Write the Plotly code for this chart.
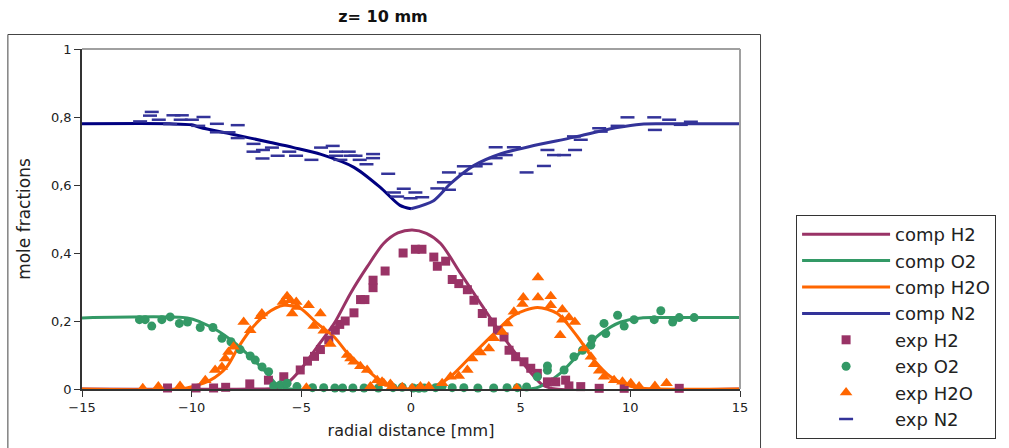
import numpy as np
import plotly.graph_objects as go

# ---- computed radial profiles (z = 10 mm) ----
h2_comp_x = [-15, -7.0, -6.2, -5.6, -5.05, -4.28, -3.5, -2.76, -2.0, -1.25, -0.6, 0.05, 0.7, 1.35, 2.26, 3.17, 4.09, 5.0, 5.5, 6.0, 6.6, 15]
h2_comp_y = [0, 0, 0.002, 0.02, 0.056, 0.124, 0.193, 0.281, 0.359, 0.428, 0.459, 0.468, 0.458, 0.428, 0.34, 0.252, 0.164, 0.085, 0.045, 0.012, 0, 0]

o2_comp_x = [-15, -10.2, -9.6, -8.85, -8.1, -7.33, -6.57, -6.1, -5.6, 5.5, 5.9, 6.8, 7.74, 8.65, 9.57, 10.5, 11.2, 15]
o2_comp_y = [0.209, 0.209, 0.197, 0.173, 0.139, 0.095, 0.047, 0.012, 0.001, 0.001, 0.008, 0.046, 0.109, 0.163, 0.197, 0.209, 0.21, 0.21]

h2o_comp_x = [-15, -10.5, -9.9, -9.15, -8.4, -7.9, -7.33, -6.57, -5.8, -5.05, -4.28, -3.5, -2.76, -2.0, -1.24, -0.6, 0.0,
              0.8, 1.2, 1.8, 2.87, 3.78, 4.69, 5.76, 6.67, 7.6, 8.35, 9.1, 9.7, 10.3, 15]
h2o_comp_y = [0, 0, 0.008, 0.026, 0.065, 0.12, 0.173, 0.222, 0.246, 0.237, 0.193, 0.153, 0.095, 0.056, 0.017, 0.002, 0,
              0.002, 0.012, 0.036, 0.105, 0.163, 0.217, 0.24, 0.222, 0.153, 0.085, 0.036, 0.015, 0.004, 0]

n2_comp_x = [-15, -11, -10, -9.6, -8.2, -6.4, -5.35, -4.1, -2.6, -1.4, -0.5, 0,
             1.03, 1.8, 2.86, 4.1, 5.6, 7.4, 9.4, 10.5, 11.5, 15]
n2_comp_y = [0.78, 0.78, 0.777, 0.769, 0.75, 0.725, 0.71, 0.69, 0.652, 0.593, 0.54, 0.53,
             0.554, 0.604, 0.657, 0.692, 0.716, 0.74, 0.769, 0.779, 0.78, 0.78]

# ---- measured values ----
h2_exp_x = [-11.1, -9.8, -9.0, -8.45, -7.35, -6.5, -5.8, -5.05, -4.72, -4.4, -4.13, -3.75, -3.45, -3.25, -3.0, -2.6,
            -2.3, -2.1, -1.73, -1.73, -1.18, -0.36, 0.2, 0.5, 1.04, 1.2, 1.58, 1.88, 2.18, 2.57, 2.87, 3.25, 3.71,
            3.94, 4.24, 4.47, 4.77, 5.15, 5.46, 5.76, 6.22, 6.6, 7.05, 7.2, 7.74, 8.58, 9.72, 12.23]
h2_exp_y = [0.003, 0.003, 0.003, 0.005, 0.015, 0.026, 0.036, 0.056, 0.082, 0.096, 0.116, 0.144, 0.173, 0.19, 0.2, 0.224,
            0.263, 0.263, 0.298, 0.32, 0.347, 0.40, 0.411, 0.411, 0.388, 0.361, 0.376, 0.322, 0.31, 0.292, 0.261, 0.222, 0.197,
            0.173, 0.153, 0.114, 0.095, 0.08, 0.061, 0.046, 0.021, 0.021, 0.026, 0.009, 0.007, 0.002, 0.002, 0.002]

o2_exp_x = [-12.38, -12.12, -11.82, -11.36, -10.98, -10.56, -10.19, -9.61, -9.03, -8.62,
            -8.21, -7.79, -7.33, -7.1, -6.79, -6.49, -6.26, -5.96, -5.65, -5.2,
            -4.49, -3.98, -3.47, -3.12, -2.65, -2.14, -1.49, -0.82, -0.4, 0.1,
            0.36, 0.61, 1.12, 1.42, 1.88, 2.41, 3.05, 3.77, 4.38, 4.85,
            5.27, 5.76, 6.22, 6.22, 6.98, 7.43, 7.82, 8.2, 8.25, 8.8,
            8.88, 9.42, 9.72, 10.17, 11.09, 11.39, 11.93, 12.23, 12.91]
o2_exp_y = [0.204, 0.204, 0.185, 0.204, 0.212, 0.193, 0.197, 0.181, 0.181, 0.149,
            0.139, 0.116, 0.097, 0.085, 0.065, 0.051, 0.009, 0.012, 0.017, 0.007,
            0.004, 0.004, 0.003, 0.003, 0.003, 0.003, 0.003, 0.004, 0.005, 0.003,
            0.002, 0.003, 0.004, 0.008, 0.004, 0.004, 0.003, 0.003, 0.004, 0.004,
            0.006, 0.036, 0.055, 0.068, 0.056, 0.095, 0.114, 0.129, 0.147, 0.193,
            0.163, 0.217, 0.185, 0.204, 0.204, 0.23, 0.197, 0.21, 0.21]

h2o_exp_x = [-12.23, -11.52, -10.53, -9.38, -8.93, -8.62, -8.47, -8.32, -8.09, -7.63,
             -7.33, -6.87, -6.8, -5.84, -5.65, -5.5, -5.42, -5.23, -5.2, -4.77,
             -4.67, -4.44, -4.13, -3.98, -3.68, -2.91, -2.76, -2.61, -2.31, -2.0,
             -1.85, -1.54, -1.32, -1.24, -0.94, -0.86, -0.4, 0.05, 0.43, 0.81,
             1.42, 1.8, 2.18, 2.57, 2.79, 3.17, 3.55, 3.78, 4.16, 4.39,
             4.69, 4.82, 5.08, 5.12, 5.79, 5.79, 6.37, 6.37, 6.8, 6.9,
             6.9, 7.2, 7.47, 7.89, 8.2, 8.35, 8.58, 8.8, 9.26, 9.64,
             10.02, 10.4, 11.12, 11.65]
h2o_exp_y = [0.002, 0.007, 0.009, 0.026, 0.056, 0.065, 0.09, 0.109, 0.124, 0.197,
             0.173, 0.214, 0.222, 0.256, 0.273, 0.261, 0.222, 0.256, 0.241, 0.004,
             0.246, 0.185, 0.222, 0.171, 0.132, 0.1, 0.09, 0.08, 0.067, 0.056,
             0.007, 0.026, 0.021, 0.017, 0.015, 0.007, 0.005, 0.002, 0.007, 0.007,
             0.017, 0.036, 0.038, 0.056, 0.09, 0.107, 0.119, 0.149, 0.168, 0.193,
             0.227, 0.002, 0.25, 0.269, 0.328, 0.269, 0.273, 0.246, 0.158, 0.234,
             0.204, 0.21, 0.197, 0.119, 0.095, 0.073, 0.054, 0.036, 0.026, 0.021,
             0.017, 0.007, 0.009, 0.017]

n2_exp_x = [-12.35, -11.9, -11.82, -11.5, -10.98, -10.83, -10.5, -10.45, -9.99, -9.7, -9.46, -8.85, -8.85, -8.32,
            -7.9, -7.9, -7.18, -7.18, -6.77, -6.75, -6.34, -6.08, -5.55, -5.24, -4.54, -4.1, -3.57, -3.42, -3.42,
            -3.22, -2.84, -2.76, -2.53, -2.34, -2.03, -1.73, -1.73, -1.04, -0.78, -0.63, -0.33, -0.02, 0.2, 0.51,
            1.2, 1.5, 1.73, 1.73, 2.41, 2.49, 2.95, 3.4, 3.86, 3.86, 4.32, 4.69, 5.27, 6.06, 6.22, 6.52, 6.98,
            7.43, 7.48, 7.74, 8.58, 8.65, 9.42, 9.87, 11.09, 11.12, 11.77, 12.3, 12.76]
n2_exp_y = [0.787, 0.804, 0.815, 0.792, 0.779, 0.805, 0.792, 0.805, 0.792, 0.774, 0.80, 0.78, 0.755, 0.755,
            0.776, 0.738, 0.721, 0.698, 0.678, 0.703, 0.71, 0.686, 0.698, 0.686, 0.674, 0.71, 0.715, 0.698, 0.686,
            0.674, 0.698, 0.686, 0.686, 0.674, 0.661, 0.691, 0.679, 0.633, 0.578, 0.566, 0.589, 0.561, 0.578, 0.564,
            0.59, 0.608, 0.586, 0.637, 0.655, 0.633, 0.655, 0.662, 0.679, 0.711, 0.688, 0.711, 0.637, 0.656, 0.703,
            0.688, 0.688, 0.743, 0.703, 0.733, 0.767, 0.757, 0.774, 0.799, 0.799, 0.762, 0.792, 0.777, 0.786]

x_ticks = [-15, -10, -5, 0, 5, 10, 15]
y_ticks = [0, 0.2, 0.4, 0.6, 0.8, 1]

C_H2 = "#993366"
C_O2 = "#339966"
C_H2O = "#ff6600"
C_N2 = "#333399"
C_N2_DARK = "#000080"
FONT = "DejaVu Sans"

fig = go.Figure()


def add_line(x, y, name, color, show=True):
    fig.add_trace(go.Scatter(
        x=x, y=y, mode="lines", name=name, legendgroup=name, showlegend=show,
        line=dict(color=color, width=3, shape="spline", smoothing=0.8),
        cliponaxis=False, hoverinfo="skip"))


add_line(h2_comp_x, h2_comp_y, "comp H2", C_H2)
add_line(o2_comp_x, o2_comp_y, "comp O2", C_O2)
add_line(h2o_comp_x, h2o_comp_y, "comp H2O", C_H2O)

# N2 profile: left half drawn darker, right half carries the legend entry
n2x = np.array(n2_comp_x)
n2y = np.array(n2_comp_y)
left = n2x <= 0
right = n2x >= 0
add_line(n2x[left], n2y[left], "comp N2 ", C_N2_DARK, show=False)
add_line(n2x[right], n2y[right], "comp N2", C_N2)


def add_points(x, y, name, color, symbol, size, line_w=0):
    marker = dict(color=color, symbol=symbol, size=size)
    if line_w:
        marker["line"] = dict(color=color, width=line_w)
    else:
        marker["line"] = dict(width=0)
    fig.add_trace(go.Scatter(
        x=x, y=y, mode="markers", name=name, legendgroup=name,
        marker=marker, cliponaxis=False))


add_points(h2_exp_x, h2_exp_y, "exp H2", C_H2, "square", 9)
add_points(o2_exp_x, o2_exp_y, "exp O2", C_O2, "circle", 9)
add_points(h2o_exp_x, h2o_exp_y, "exp H2O", C_H2O, "triangle-up", 11)
add_points(n2_exp_x, n2_exp_y, "exp N2", C_N2, "line-ew", 10, line_w=2.5)

axis_common = dict(
    showline=True, linecolor="#333333", linewidth=1.5,
    ticks="outside", ticklen=6, tickwidth=1.2, tickcolor="#333333",
    showgrid=False, zeroline=False,
    tickfont=dict(family=FONT, size=13, color="#222222"),
)

fig.update_layout(
    width=1009, height=448,
    margin=dict(l=82, r=269, t=49, b=59, autoexpand=False),
    paper_bgcolor="white", plot_bgcolor="white",
    separators=",.",
    font=dict(family=FONT, color="#222222"),
    title=dict(text="<b>z= 10 mm</b>", x=383 / 1009, xref="container", xanchor="center",
               y=1 - 16 / 448, yref="container", yanchor="middle",
               font=dict(family=FONT, size=16, color="#111111")),
    xaxis=dict(range=[-15, 15], tickvals=x_ticks, **axis_common,
               title=dict(text="radial distance [mm]", font=dict(family=FONT, size=16), standoff=10)),
    yaxis=dict(range=[0, 1], tickvals=y_ticks, **axis_common,
               title=dict(text="mole fractions", font=dict(family=FONT, size=17), standoff=16)),
    legend=dict(x=(795 - 82) / 657, y=(389 - 215) / 340, xanchor="left", yanchor="top",
                bordercolor="#333333", borderwidth=1, bgcolor="white",
                font=dict(family=FONT, size=18, color="#222222"),
                itemwidth=88, tracegroupgap=0),
    showlegend=True,
)

# outer frame and the light top/right edges of the plot area
fig.add_shape(type="rect", xref="paper", yref="paper",
              x0=(8 - 82) / 657, x1=(759.5 - 82) / 657, y0=(389 - 470) / 340, y1=(389 - 34.5) / 340,
              line=dict(color="#444444", width=1), fillcolor="rgba(0,0,0,0)", layer="below")
fig.add_shape(type="line", xref="paper", yref="paper", x0=0, x1=1, y0=1, y1=1,
              line=dict(color="#a0a0a0", width=2))
fig.add_shape(type="line", xref="paper", yref="paper", x0=1, x1=1, y0=0, y1=1,
              line=dict(color="#a0a0a0", width=2))

fig.write_html("out.html")
